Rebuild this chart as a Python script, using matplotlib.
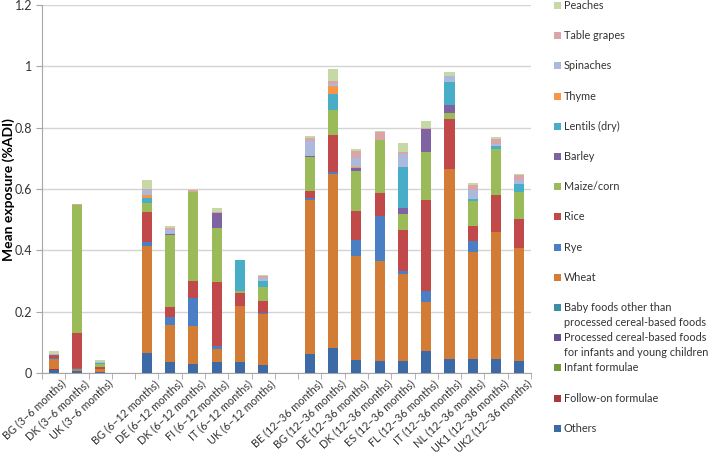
import matplotlib
matplotlib.use("Agg")
import matplotlib.pyplot as plt
import matplotlib.transforms as mtransforms
from matplotlib.patches import Rectangle
import numpy as np

plt.rcParams["font.family"] = ["Lato", "DejaVu Sans"]

# bar groups (a blank slot is left between groups)
groups = [
    ["BG (3–6 months)", "DK (3–6 months)", "UK (3–6 months)"],
    ["BG (6–12 months)", "DE (6–12 months)", "DK (6–12 months)",
     "FI (6–12 months)", "IT (6–12 months)", "UK (6–12 months)"],
    ["BE (12–36 months)", "BG (12–36 months)", "DE (12–36 months)",
     "DK (12–36 months)", "ES (12–36 months)", "FL (12–36 months)",
     "IT (12–36 months)", "NL (12–36 months)", "UK1 (12–36 months)",
     "UK2 (12–36 months)"],
]

# series, bottom to top of the stack
others = [0.010, 0.006, 0.004, 0.064, 0.035, 0.030, 0.035, 0.037, 0.027,
          0.063, 0.082, 0.043, 0.040, 0.040, 0.071, 0.047, 0.047, 0.045, 0.040]
follow_on = [0.002, 0, 0, 0, 0, 0, 0, 0, 0,
             0, 0, 0, 0, 0, 0, 0, 0, 0, 0]
infant = [0] * 19
processed = [0] * 19
baby_foods = [0] * 19
wheat = [0.034, 0.006, 0.009, 0.350, 0.123, 0.123, 0.043, 0.181, 0.166,
         0.500, 0.567, 0.339, 0.326, 0.284, 0.161, 0.617, 0.348, 0.415, 0.368]
rye = [0.002, 0.004, 0, 0.012, 0.026, 0.092, 0.009, 0, 0.003,
       0.008, 0.006, 0.051, 0.146, 0.009, 0.034, 0.002, 0.037, 0, 0]
rice = [0.006, 0.114, 0.005, 0.100, 0.032, 0.054, 0.210, 0.043, 0.040,
        0.021, 0.122, 0.095, 0.074, 0.134, 0.298, 0.163, 0.047, 0.119, 0.093]
maize = [0.002, 0.418, 0.012, 0.028, 0.235, 0.290, 0.176, 0.005, 0.044,
         0.112, 0.082, 0.130, 0.175, 0.053, 0.157, 0.020, 0.083, 0.150, 0.089]
barley = [0.002, 0, 0, 0, 0.003, 0, 0.049, 0, 0.002,
          0.003, 0, 0.011, 0, 0.017, 0.076, 0.024, 0, 0, 0]
lentils = [0, 0, 0.002, 0.017, 0, 0, 0, 0.101, 0.017,
           0, 0.050, 0, 0, 0.134, 0, 0.076, 0.005, 0.010, 0.025]
thyme = [0, 0, 0, 0.008, 0, 0, 0, 0, 0,
         0, 0.026, 0.004, 0, 0, 0, 0, 0, 0, 0]
spinaches = [0.002, 0, 0.005, 0.017, 0.013, 0, 0, 0.003, 0.012,
             0.048, 0.008, 0.029, 0, 0.043, 0, 0.018, 0.031, 0.007, 0.013]
table_grapes = [0.002, 0.002, 0, 0.003, 0.007, 0.007, 0.003, 0, 0.005,
                0.012, 0.008, 0.021, 0.025, 0.007, 0.003, 0, 0.014, 0.018, 0.018]
peaches = [0.010, 0, 0.004, 0.030, 0.004, 0.003, 0.014, 0, 0.004,
           0.006, 0.039, 0.008, 0.004, 0.030, 0.022, 0.015, 0.009, 0.007, 0.004]

series = [
    ("Others", others, "#3C6AA6"),
    ("Follow-on formulae", follow_on, "#A8393A"),
    ("Infant formulae", infant, "#77973B"),
    ("Processed cereal-based foods\nfor infants and young children", processed, "#674E8C"),
    ("Baby foods other than\nprocessed cereal-based foods", baby_foods, "#3A8EA6"),
    ("Wheat", wheat, "#D27C36"),
    ("Rye", rye, "#4B7FC5"),
    ("Rice", rice, "#C2494A"),
    ("Maize/corn", maize, "#9BBB59"),
    ("Barley", barley, "#7F62A1"),
    ("Lentils (dry)", lentils, "#48ADC7"),
    ("Thyme", thyme, "#F79646"),
    ("Spinaches", spinaches, "#AAB9DC"),
    ("Table grapes", table_grapes, "#DBA4A6"),
    ("Peaches", peaches, "#C5D8A5"),
]

# x positions with one empty slot between groups
xpos = []
labels = []
slot = 0
for g in groups:
    for lab in g:
        xpos.append(slot)
        labels.append(lab)
        slot += 1
    slot += 1
xpos = np.array(xpos)
nslots = slot - 1

W, H = 709, 454
fig = plt.figure(figsize=(W / 100, H / 100), dpi=100)
ax = fig.add_axes([42 / W, 1 - 373 / H, (531 - 42) / W, (373 - 5) / H])

bottom = np.zeros(len(xpos))
for name, vals, col in series:
    vals = np.array(vals, dtype=float)
    ax.bar(xpos, vals, width=0.43, bottom=bottom, color=col, linewidth=0, zorder=3)
    bottom += vals

ax.set_xlim(-0.5, nslots - 0.5)
ax.set_ylim(0, 1.2)
ax.set_yticks(np.arange(0, 1.21, 0.2))
ax.set_yticklabels(["0", "0.2", "0.4", "0.6", "0.8", "1", "1.2"], fontsize=9, color="#333333")
ax.yaxis.grid(True, color="#D4D4D4", linewidth=1, zorder=0)
ax.tick_params(axis="y", length=4, color="#A6A6A6", pad=3)

# category labels, slanted, just below the axis
ax.set_xticks([])
ax.set_xticks(np.arange(-0.5, nslots, 1.0), minor=True)
ax.tick_params(axis="x", which="minor", length=4, color="#A6A6A6")
lab_trans = ax.get_xaxis_transform() + mtransforms.ScaledTranslation(0.07, -0.05, fig.dpi_scale_trans)
for x, lab in zip(xpos, labels):
    ax.text(x, 0, lab, transform=lab_trans, rotation=43, ha="right", va="top",
            rotation_mode="anchor", fontsize=7.8, color="#333333")

for s in ["top", "right"]:
    ax.spines[s].set_visible(False)
ax.spines["left"].set_color("#A6A6A6")
ax.spines["bottom"].set_color("#A6A6A6")

fig.text(9 / W, 1 - 190 / H, "Mean exposure (%ADI)", rotation=90, fontsize=10,
         fontweight="bold", ha="center", va="center", color="#000000")

# legend, drawn top to bottom like the original
y0, step = 5.5, 30.2
for k, (name, vals, col) in enumerate(reversed(series)):
    yc = y0 + k * step
    fig.patches.append(Rectangle((554 / W, 1 - (yc + 3.5) / H), 7 / W, 7 / H,
                                 transform=fig.transFigure, facecolor=col,
                                 edgecolor="none"))
    for j, line in enumerate(name.split("\n")):
        fig.text(564 / W, 1 - (yc + j * 15) / H, line, fontsize=7.8,
                 va="center", ha="left", color="#333333")

fig.savefig("out.png", dpi=100)
